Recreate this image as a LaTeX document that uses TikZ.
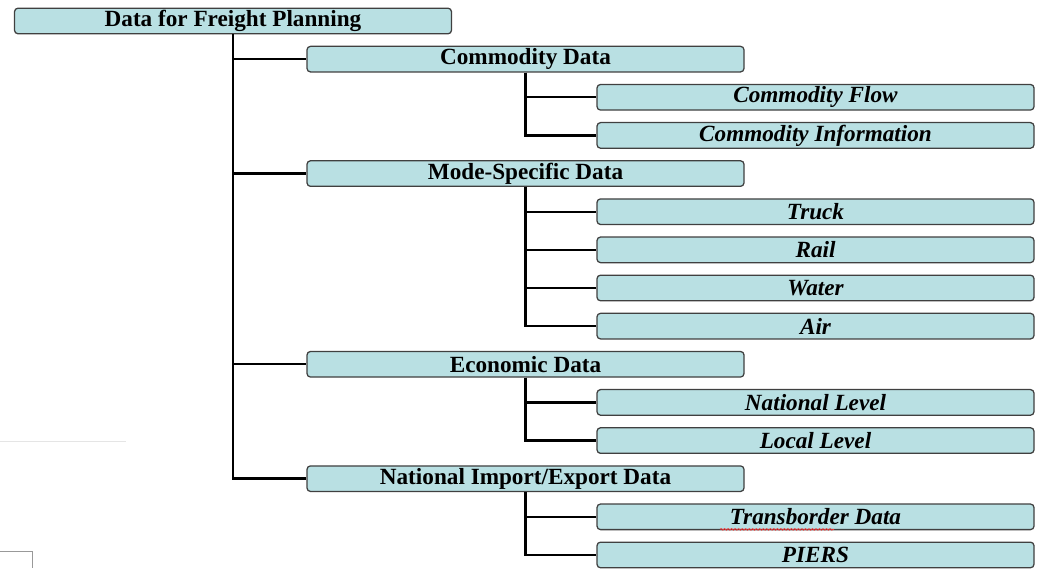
\documentclass[tikz,border=0pt]{standalone}
\usepackage{fontspec}
\setmainfont{Liberation Serif}
\usetikzlibrary{decorations.pathmorphing}
\definecolor{boxfill}{RGB}{185,224,227}
\tikzset{
    groupbox/.style={draw=black!75, line width=0.9pt, fill=boxfill, rounded corners=2.5pt,
        minimum width=10.925cm, minimum height=0.64cm, inner sep=0pt,
        font=\fontsize{16.5}{18}\selectfont\bfseries},
    itembox/.style={groupbox, font=\fontsize{16.5}{18}\selectfont\bfseries\itshape},
    branch/.style={line width=1.7pt, black}
}

\begin{document}
\begin{tikzpicture}[y=-0.9535cm]
    \useasboundingbox(0, -0.5506)rectangle(26.05, 14.342);
    % faint leftovers of the page
    \draw[black!10, line width=0.5pt](0, 11.03)--(3.15, 11.03);
    \draw[black!40, line width=0.6pt](0, 13.913)--(0.8, 13.913)--(0.8, 14.342);
    % boxes
    \node[groupbox](root)at(5.825, 0){Data for Freight Planning};
    \node[groupbox](com)at(13.1375, 1){Commodity Data};
    \node[itembox](comflow)at(20.3875, 2){Commodity Flow};
    \node[itembox](cominfo)at(20.3875, 3){Commodity Information};
    \node[groupbox](mode)at(13.1375, 4){Mode-Specific Data};
    \node[itembox](truck)at(20.3875, 5){Truck};
    \node[itembox](rail)at(20.3875, 6){Rail};
    \node[itembox](water)at(20.3875, 7){Water};
    \node[itembox](air)at(20.3875, 8){Air};
    \node[groupbox](eco)at(13.1375, 9){Economic Data};
    \node[itembox](natlev)at(20.3875, 10){National Level};
    \node[itembox](loclev)at(20.3875, 11){Local Level};
    \node[groupbox](imex)at(13.1375, 12){National Import/Export Data};
    \node[itembox](trans)at(20.3875, 13){Transborder Data};
    \node[itembox](piers)at(20.3875, 14){PIERS};
    % spell-check mark
    \draw[red!80, line width=0.5pt, decorate, decoration={snake, amplitude=0.6pt, segment length=2.5pt}]
        (18.0, 13.33)--(20.85, 13.33);
    % connectors
    \foreach \g in {com, mode, eco, imex}
        \draw[branch](root.south)|-(\g.west);
    \foreach \i in {comflow, cominfo}
        \draw[branch](com.south)|-(\i.west);
    \foreach \i in {truck, rail, water, air}
        \draw[branch](mode.south)|-(\i.west);
    \foreach \i in {natlev, loclev}
        \draw[branch](eco.south)|-(\i.west);
    \foreach \i in {trans, piers}
        \draw[branch](imex.south)|-(\i.west);
\end{tikzpicture}
\end{document}
